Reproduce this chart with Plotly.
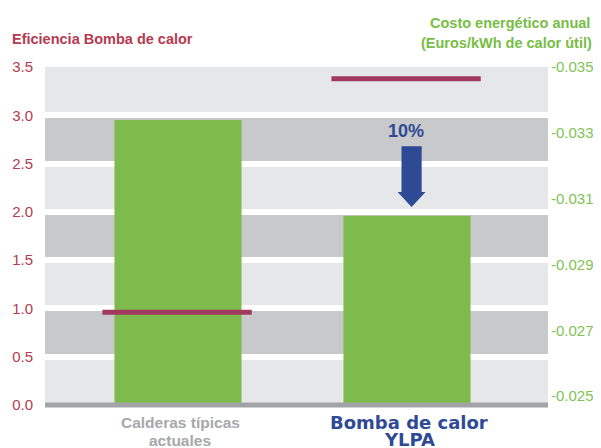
import plotly.graph_objects as go

# datos
categorias = [["Calderas típicas", "actuales"], ["Bomba de calor", "YLPA"]]
eficiencia = [2.95, 1.96]            # eje izquierdo
costo = [-0.02755, -0.03464]         # eje derecho (Euros/kWh)
reduccion = "10%"
ticks_izq = [0.0, 0.5, 1.0, 1.5, 2.0, 2.5, 3.0, 3.5]
ticks_der = [-0.025, -0.027, -0.029, -0.031, -0.033, -0.035]

FONT = "Liberation Sans, Arial, sans-serif"
VERDE = "#7fbb4c"
MAGENTA = "#a13a5e"
ROJO = "#b53a4f"
AZUL = "#2f4a94"
GRIS = "#a6a8ab"

xpos = list(range(len(categorias)))

fig = go.Figure()
fig.add_trace(go.Bar(x=xpos, y=eficiencia, width=0.555, marker=dict(color=VERDE, line=dict(width=0)),
                     showlegend=False, hoverinfo="skip"))
for i, c in zip(xpos, costo):
    fig.add_trace(go.Scatter(x=[i - 0.33, i + 0.322], y=[c, c], mode="lines", yaxis="y2",
                             line=dict(color=MAGENTA, width=5), showlegend=False, hoverinfo="skip"))

# bandas de fondo
shapes = []
for k in range(len(ticks_izq) - 1):
    shapes.append(dict(type="rect", xref="paper", yref="y", x0=0, x1=1,
                       y0=ticks_izq[k], y1=ticks_izq[k + 1], layer="below", line=dict(width=0),
                       fillcolor="#c8c9cb" if k % 2 else "#e6e7e8"))
# linea base
shapes.append(dict(type="line", xref="paper", yref="paper", x0=0, x1=1, y0=0, y1=0,
                   line=dict(color="#a2a3a6", width=5), layer="above"))
# flecha
cx = xpos[1] + 0.02
tip = eficiencia[1] + 0.09
base = tip + 0.155
top = 2.68
path = (f"M {cx-0.044},{top} L {cx+0.044},{top} L {cx+0.044},{base} L {cx+0.061},{base} "
        f"L {cx},{tip} L {cx-0.061},{base} L {cx-0.044},{base} Z")
shapes.append(dict(type="path", xref="x", yref="y", path=path, fillcolor=AZUL, line=dict(width=0), layer="above"))

anns = [
    dict(text="<b>Eficiencia Bomba de calor</b>", xref="paper", yref="paper", x=0, y=1, xanchor="left",
         yanchor="middle", xshift=-35, yshift=28, showarrow=False, font=dict(family=FONT, size=14.5, color=ROJO)),
    dict(text="<b>Costo energético anual</b>", xref="paper", yref="paper", x=1, y=1, xanchor="right",
         yanchor="middle", xshift=44, yshift=44, showarrow=False, font=dict(family=FONT, size=14.5, color="#78bd46")),
    dict(text="<b>(Euros/kWh de calor útil)</b>", xref="paper", yref="paper", x=1, y=1, xanchor="right",
         yanchor="middle", xshift=46, yshift=24, showarrow=False, font=dict(family=FONT, size=14.5, color="#78bd46")),
    dict(text=f"<b>{reduccion}</b>", xref="x", yref="y", x=xpos[1] - 0.005, y=2.836, yanchor="middle",
         showarrow=False, font=dict(family=FONT, size=18, color=AZUL)),
]
estilos = [dict(family=FONT, size=15.5, color=GRIS), dict(family="DejaVu Sans, sans-serif", size=18, color=AZUL)]
for i, lineas in zip(xpos, categorias):
    for j, t in enumerate(lineas):
        anns.append(dict(text=f"<b>{t}</b>", xref="x", yref="paper", x=i + 0.01, y=0, yanchor="middle",
                         yshift=-17 - (18 - i) * j, showarrow=False, font=estilos[i]))

# la pagina deja 8px de margen, por eso 593x440
fig.update_layout(
    width=593, height=440,
    margin=dict(l=37, r=53, t=59, b=43),
    paper_bgcolor="white", plot_bgcolor="rgba(0,0,0,0)",
    shapes=shapes, annotations=anns,
    xaxis=dict(range=[-0.5808, 1.6157], showticklabels=False, showgrid=False, zeroline=False, fixedrange=True),
    yaxis=dict(range=[0, 3.5], tickvals=ticks_izq, ticktext=[f"{v:.1f}" for v in ticks_izq], automargin=False,
               showgrid=True, gridcolor="white", gridwidth=6, zeroline=False, ticklabelstandoff=11,
               tickfont=dict(family=FONT, size=15, color=ROJO)),
    yaxis2=dict(overlaying="y", side="right", range=[-0.02473, -0.035], tickvals=ticks_der, automargin=False,
                ticktext=[f"{v:.3f}" for v in ticks_der], showgrid=False, zeroline=False,
                ticklabelstandoff=2, tickfont=dict(family=FONT, size=15, color="#80c355")),
)

fig.write_html("out.html")
